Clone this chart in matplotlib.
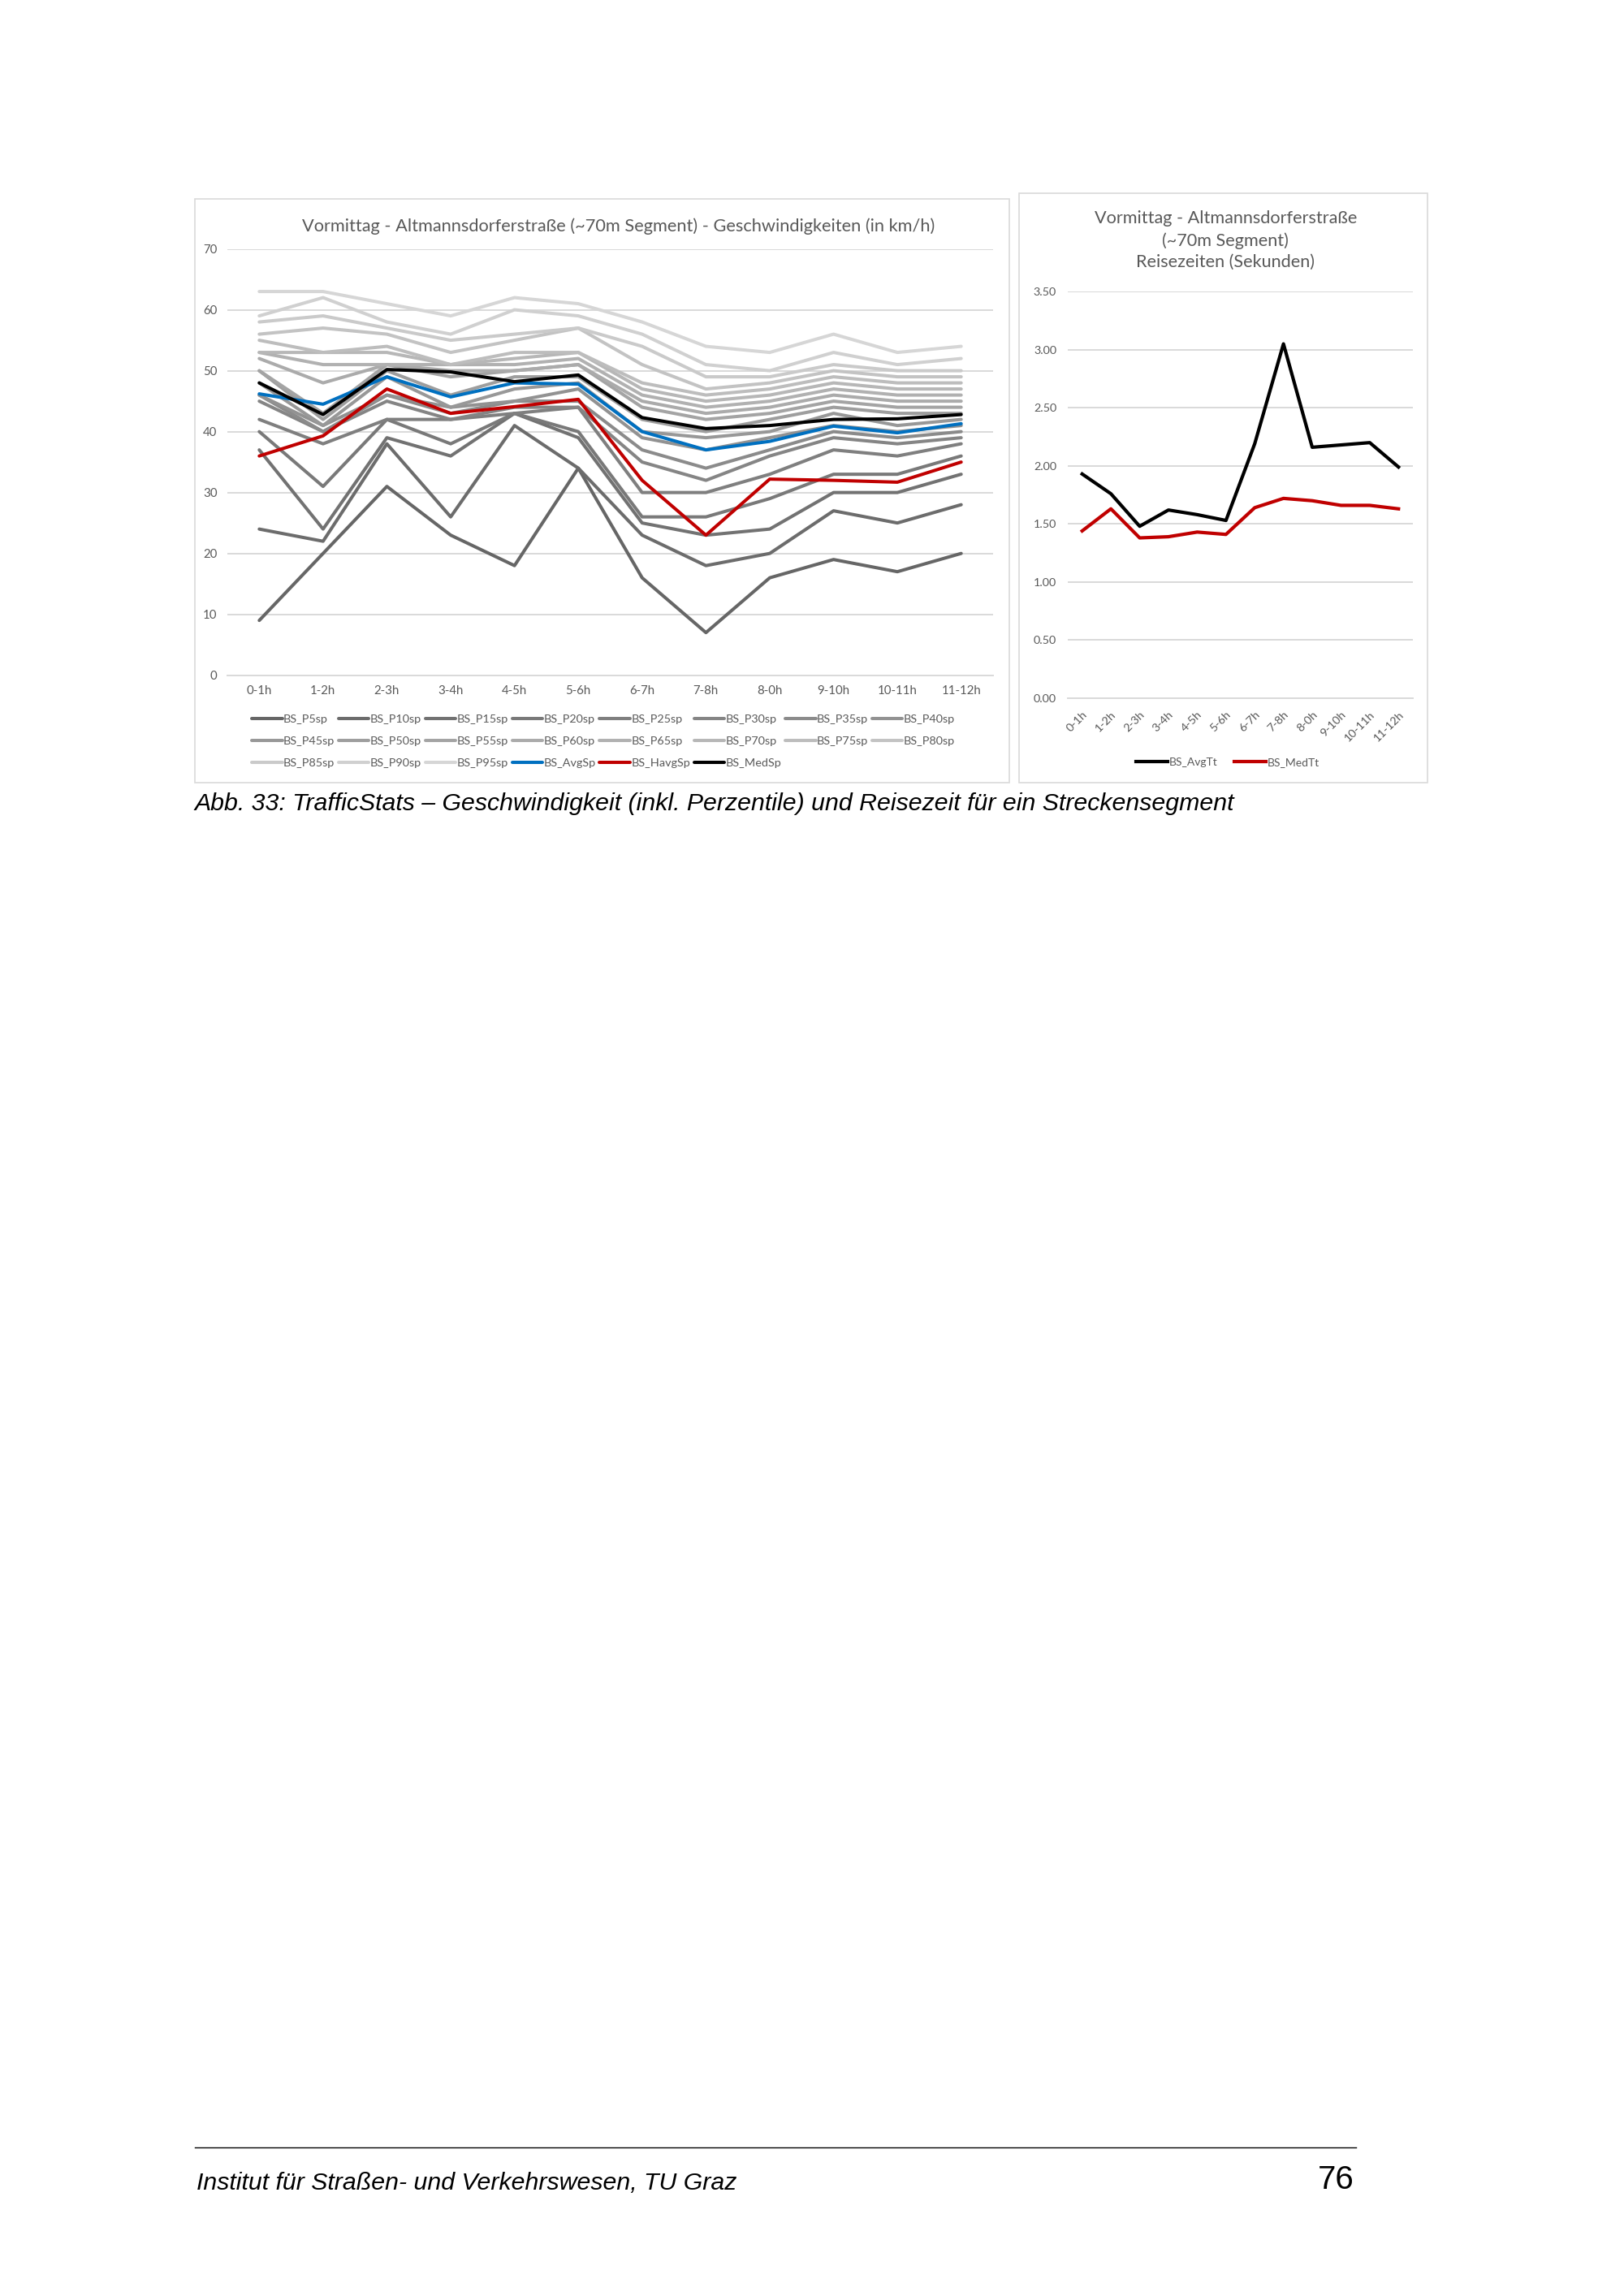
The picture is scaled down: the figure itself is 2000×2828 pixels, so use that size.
import numpy as np
import matplotlib
matplotlib.use('Agg')
import matplotlib.pyplot as plt
from matplotlib.patches import Rectangle
from matplotlib.lines import Line2D

hours = ['0-1h', '1-2h', '2-3h', '3-4h', '4-5h', '5-6h',
         '6-7h', '7-8h', '8-0h', '9-10h', '10-11h', '11-12h']

# percentile speeds (km/h)
p5 = [9, 20, 31, 23, 18, 34, 16, 7, 16, 19, 17, 20]
p10 = [24, 22, 38, 26, 41, 34, 23, 18, 20, 27, 25, 28]
p15 = [37, 24, 39, 36, 43, 39, 25, 23, 24, 30, 30, 33]
p20 = [40, 31, 42, 38, 43, 40, 26, 26, 29, 33, 33, 36]
p25 = [42, 38, 42, 42, 43, 44, 30, 30, 33, 37, 36, 38]
p30 = [45, 40, 45, 42, 44, 44, 35, 32, 36, 39, 38, 39]
p35 = [46, 40, 46, 43, 45, 45, 37, 34, 37, 40, 39, 40]
p40 = [46, 41, 46, 44, 45, 47, 39, 37, 39, 41, 40, 41]
p45 = [48, 41, 49, 44, 47, 48, 40, 39, 40, 43, 41, 42]
p50 = [50, 42, 50, 46, 49, 49, 42, 40, 42, 44, 43, 43]
p55 = [50, 43, 51, 49, 50, 51, 44, 42, 43, 45, 44, 44]
p60 = [52, 48, 51, 50, 50, 51, 45, 43, 44, 46, 45, 45]
p65 = [53, 51, 51, 51, 51, 52, 46, 44, 45, 47, 46, 46]
p70 = [53, 53, 53, 51, 52, 53, 47, 45, 46, 48, 47, 47]
p75 = [55, 53, 54, 51, 53, 53, 48, 46, 47, 49, 48, 48]
p80 = [56, 57, 56, 53, 55, 57, 51, 47, 48, 50, 49, 49]
p85 = [58, 59, 57, 55, 56, 57, 54, 49, 49, 51, 50, 50]
p90 = [59, 62, 58, 56, 60, 59, 56, 51, 50, 53, 51, 52]
p95 = [63, 63, 61, 59, 62, 61, 58, 54, 53, 56, 53, 54]

avg_sp = [46.2, 44.5, 49, 45.7, 48, 47.8, 40, 37, 38.4, 40.9, 39.8, 41.3]
havg_sp = [36, 39.3, 47, 43, 44.1, 45.3, 32, 23, 32.2, 32, 31.7, 35]
med_sp = [48, 42.8, 50.2, 49.8, 48.2, 49.3, 42.3, 40.5, 41, 42, 42.1, 42.8]

# travel times (s)
avg_tt = [1.93, 1.76, 1.48, 1.62, 1.58, 1.53, 2.19, 3.05, 2.16, 2.18, 2.20, 1.99]
med_tt = [1.44, 1.63, 1.38, 1.39, 1.43, 1.41, 1.64, 1.72, 1.70, 1.66, 1.66, 1.63]

percentiles = [p5, p10, p15, p20, p25, p30, p35, p40, p45, p50,
               p55, p60, p65, p70, p75, p80, p85, p90, p95]
pct_names = [f'BS_P{k}sp' for k in range(5, 100, 5)]

txt = '#595959'
grid = '#d9d9d9'
chart_font = ['Lato', 'DejaVu Sans']

fig = plt.figure(figsize=(10, 14.14), dpi=200)
fig.patch.set_facecolor('white')

# panel frames
for x0, y0, w, h in [(0.12, 0.6591, 0.5015, 0.2542), (0.6275, 0.6591, 0.2515, 0.2567)]:
    fig.add_artist(Rectangle((x0, y0), w, h, transform=fig.transFigure,
                             facecolor='white', edgecolor=grid, lw=0.6, zorder=0))

# ---- left chart: speeds
ax = fig.add_axes([0.14, 0.7059, 0.4715, 0.1857])
x = np.arange(len(hours))
greys = np.linspace(0.40, 0.84, len(percentiles))
handles = []
for vals, name, g in zip(percentiles, pct_names, greys):
    ln, = ax.plot(x, vals, color=str(g), lw=1.45, solid_joinstyle='round',
                  solid_capstyle='round', label=name)
    handles.append(ln)
for vals, name, c in [(avg_sp, 'BS_AvgSp', '#0070c0'), (havg_sp, 'BS_HavgSp', '#c00000'),
                      (med_sp, 'BS_MedSp', 'black')]:
    ln, = ax.plot(x, vals, color=c, lw=1.45, solid_joinstyle='round',
                  solid_capstyle='round', label=name)
    handles.append(ln)

ax.set_xlim(-0.5, len(hours) - 0.5)
ax.set_ylim(0, 70)
ax.set_yticks(range(0, 71, 10))
ax.set_xticks(x)
ax.set_xticklabels(hours)
ax.grid(axis='y', color=grid, lw=0.7)
ax.set_axisbelow(True)
for s in ['top', 'right', 'left']:
    ax.spines[s].set_visible(False)
ax.spines['bottom'].set_color(grid)
ax.spines['bottom'].set_linewidth(0.7)
ax.tick_params(length=0, labelsize=5.4, labelcolor=txt, pad=4.5)
for lab in ax.get_xticklabels() + ax.get_yticklabels():
    lab.set_family(chart_font)
fig.text(0.381, 0.9015, 'Vormittag - Altmannsdorferstraße (~70m Segment) - Geschwindigkeiten (in km/h)',
         ha='center', va='center', fontsize=7.85, color=txt, family=chart_font)

# legend in row-major order: 8 columns
order = []
for c in range(8):
    for r in range(3):
        i = r * 8 + c
        if i < len(handles):
            order.append(i)
fig.legend([handles[i] for i in order], [handles[i].get_label() for i in order],
           loc='center', bbox_to_anchor=(0.3715, 0.6772), ncol=8, frameon=False,
           prop={'family': chart_font, 'size': 5.2}, labelcolor=txt,
           handlelength=2.6, handletextpad=0.1, columnspacing=0.32, labelspacing=1.05)

# ---- right chart: travel times
ax2 = fig.add_axes([0.6575, 0.6959, 0.2125, 0.1771])
ax2.plot(x, avg_tt, color='black', lw=1.5, solid_joinstyle='round', label='BS_AvgTt')
ax2.plot(x, med_tt, color='#c00000', lw=1.5, solid_joinstyle='round', label='BS_MedTt')
ax2.set_xlim(-0.5, len(hours) - 0.5)
ax2.set_ylim(0, 3.5)
ax2.set_yticks(np.arange(0, 3.51, 0.5))
ax2.set_yticklabels([f'{v:.2f}' for v in np.arange(0, 3.51, 0.5)])
ax2.set_xticks(x)
ax2.set_xticklabels(hours, rotation=45, ha='right', rotation_mode='anchor')
ax2.grid(axis='y', color=grid, lw=0.7)
ax2.set_axisbelow(True)
for s in ['top', 'right', 'left']:
    ax2.spines[s].set_visible(False)
ax2.spines['bottom'].set_color(grid)
ax2.spines['bottom'].set_linewidth(0.7)
ax2.tick_params(length=0, labelsize=5.2, labelcolor=txt, pad=5)
for lab in ax2.get_xticklabels() + ax2.get_yticklabels():
    lab.set_family(chart_font)
fig.text(0.7546, 0.8953, 'Vormittag - Altmannsdorferstraße\n(~70m Segment)\nReisezeiten (Sekunden)',
         ha='center', va='center', fontsize=7.8, color=txt, family=chart_font,
         linespacing=1.4)
fig.legend(*ax2.get_legend_handles_labels(), loc='center', bbox_to_anchor=(0.756, 0.668),
           ncol=2, frameon=False, prop={'family': chart_font, 'size': 5.0}, labelcolor=txt,
           handlelength=2.8, handletextpad=0.1, columnspacing=1.5)

# ---- caption and page footer
page_font = ['Liberation Sans', 'DejaVu Sans']
fig.text(0.12, 1 - 990 / 2828,
         'Abb. 33: TrafficStats – Geschwindigkeit (inkl. Perzentile) und Reisezeit für ein Streckensegment',
         ha='left', va='center', fontsize=10.9, style='italic', family=page_font, color='black')
fig.add_artist(Line2D([0.12, 0.835], [1 - 2645 / 2828] * 2, transform=fig.transFigure,
                      color='black', lw=0.5))
fig.text(0.121, 1 - 2689 / 2828, 'Institut für Straßen- und Verkehrswesen, TU Graz',
         ha='left', va='center', fontsize=10.9, style='italic', family=page_font)
fig.text(0.834, 1 - 2685 / 2828, '76', ha='right', va='center', fontsize=14.5, family=page_font)

fig.savefig('out.png', dpi=200, facecolor='white')
